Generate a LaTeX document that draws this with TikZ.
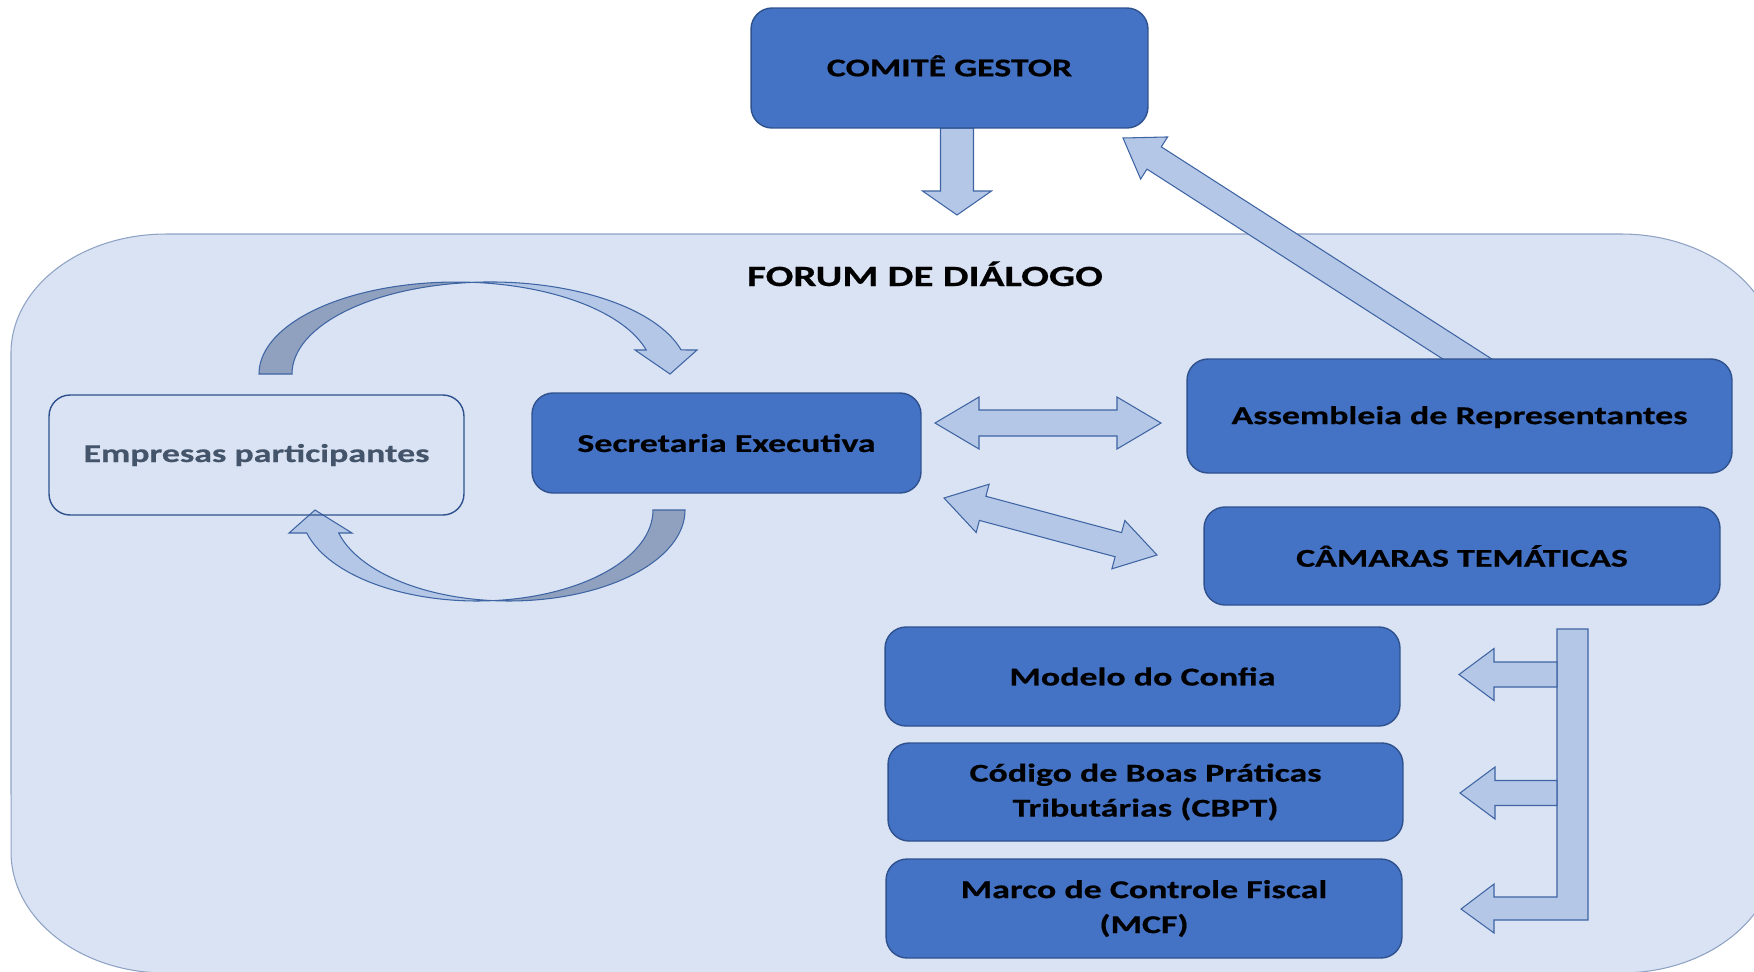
\documentclass[tikz,border=0pt]{standalone}
\usepackage{fontspec}
\newfontfamily\diagfont{Carlito}[FakeStretch=1.4, BoldFeatures={FakeBold=0.5}]
\usetikzlibrary{calc}
\definecolor{boxfill}{HTML}{4472C4}
\definecolor{boxline}{HTML}{2F528F}
\definecolor{panelfill}{HTML}{DAE3F3}
\definecolor{panelline}{HTML}{8EA2C4}
\definecolor{arrfill}{HTML}{B4C7E7}
\definecolor{arrline}{HTML}{3E64A3}
\definecolor{arrdark}{HTML}{8FA1BF}
\definecolor{greytext}{HTML}{44546A}
\tikzset{box/.style={rounded corners=0.42cm, draw=boxline, line width=0.8pt, fill=boxfill, inner sep=0pt, align=center, font=\diagfont\bfseries\fontsize{14.6}{19.9}\selectfont}}
\tikzset{openbox/.style={box, fill=none, text=greytext}}
\tikzset{panel/.style={draw=panelline, fill=panelfill, line width=0.6pt}}
\tikzset{arrshape/.style={draw=arrline, fill=arrfill, line width=0.6pt}}
\tikzset{arrback/.style={arrshape, fill=arrdark}}
% block arrow: tail, tip, half shaft, half head, head length
\newcommand{\blockarrow}[5]{%
  \coordinate (hb) at ($(#2)!#5!(#1)$);
  \path[arrshape] ($(#1)!#3!90:(#2)$) -- ($(hb)!#3!90:(#2)$) -- ($(hb)!#4!90:(#2)$) -- (#2)
    -- ($(hb)!#4!-90:(#2)$) -- ($(hb)!#3!-90:(#2)$) -- ($(#1)!#3!-90:(#2)$) -- cycle;}
% two-headed block arrow
\newcommand{\dblarrow}[5]{%
  \coordinate (ha) at ($(#1)!#5!(#2)$);
  \coordinate (hb) at ($(#2)!#5!(#1)$);
  \path[arrshape] (#1) -- ($(ha)!#4!90:(#2)$) -- ($(ha)!#3!90:(#2)$) -- ($(hb)!#3!90:(#2)$)
    -- ($(hb)!#4!90:(#2)$) -- (#2) -- ($(hb)!#4!-90:(#2)$) -- ($(hb)!#3!-90:(#2)$)
    -- ($(ha)!#3!-90:(#2)$) -- ($(ha)!#4!-90:(#2)$) -- cycle;}

\begin{document}
\begin{tikzpicture}[x=0.02cm, y=0.02cm]
    \useasboundingbox (0,0) rectangle (1754,-971);
    \clip (0,0) rectangle (1754,-971);

    % forum panel
    \path[panel] (166,-234) -- (1621,-234) arc[start angle=90, end angle=0, x radius=3.1cm, y radius=2.38cm]
        -- (1776,-852) arc[start angle=0, end angle=-90, x radius=3.1cm, y radius=2.42cm]
        -- (166,-973) arc[start angle=270, end angle=180, x radius=3.1cm, y radius=2.42cm]
        -- (11,-353) arc[start angle=180, end angle=90, x radius=3.1cm, y radius=2.38cm] -- cycle;
    \node[anchor=base, font=\diagfont\bfseries\fontsize{16.7}{20}\selectfont] (forum) at (925,-286) {FORUM DE DIÁLOGO};

    % curved arrows
    \path[arrback] (259,-374) arc[start angle=180, end angle=85.05, x radius=3.94cm, y radius=1.84cm]
        arc[start angle=94.93, end angle=180, x radius=3.96cm, y radius=1.84cm] -- cycle;
    \path[arrshape] (473,-282.3) arc[start angle=94.93, end angle=15.12, x radius=3.96cm, y radius=1.84cm]
        -- (697,-350) -- (670,-374) -- (635,-350) -- (646.2,-350)
        arc[start angle=15.12, end angle=85.05, x radius=3.94cm, y radius=1.84cm] -- cycle;
    \path[arrback] (685,-510) arc[start angle=0, end angle=-95.22, x radius=3.52cm, y radius=1.82cm]
        arc[start angle=-84.78, end angle=0, x radius=3.52cm, y radius=1.82cm] -- cycle;
    \path[arrshape] (493,-600.6) arc[start angle=-84.78, end angle=-165.36, x radius=3.52cm, y radius=1.82cm]
        -- (289,-533) -- (315,-510) -- (352,-533) -- (338.7,-533)
        arc[start angle=-165.36, end angle=-95.22, x radius=3.52cm, y radius=1.82cm] -- cycle;

    % arrow ends
    \coordinate (g1) at (957,-128);
    \coordinate (g2) at (957,-215);
    \coordinate (as1) at (1500,-380);
    \coordinate (as2) at (1123,-138);
    \coordinate (sa1) at (935,-423);
    \coordinate (sa2) at (1161,-423);
    \coordinate (sc1) at (944,-498);
    \coordinate (sc2) at (1157,-555);
    \coordinate (b1) at (1557,-674.5);
    \coordinate (b1t) at (1459,-674.5);
    \coordinate (b2) at (1557,-793);
    \coordinate (b2t) at (1460,-793);

    \blockarrow{g1}{g2}{0.33cm}{0.69cm}{0.48cm}
    \blockarrow{as1}{as2}{0.265cm}{0.5cm}{0.74cm}
    \dblarrow{sa1}{sa2}{0.26cm}{0.52cm}{0.88cm}
    \dblarrow{sc1}{sc2}{0.25cm}{0.5cm}{0.8cm}

    % bracket to the three themes
    \path[arrshape] (1557,-629) -- (1588,-629) -- (1588,-920) -- (1494,-920) -- (1494,-933)
        -- (1461,-909) -- (1494,-884) -- (1494,-897) -- (1557,-897) -- cycle;
    \blockarrow{b1}{b1t}{0.25cm}{0.52cm}{0.7cm}
    \blockarrow{b2}{b2t}{0.25cm}{0.52cm}{0.7cm}

    % boxes
    \node[box, minimum width=7.94cm, minimum height=2.4cm, text depth=0.25em] (gestor) at (949.5,-68) {COMITÊ GESTOR};
    \node[openbox, minimum width=8.3cm, minimum height=2.4cm] (empresas) at (256.5,-455) {Empresas participantes};
    \node[box, minimum width=7.78cm, minimum height=2cm] (secretaria) at (726.5,-443) {Secretaria Executiva};
    \node[box, minimum width=10.9cm, minimum height=2.28cm, text height=1.15em] (assembleia) at (1459.5,-416) {Assembleia de Representantes};
    \node[box, minimum width=10.32cm, minimum height=1.96cm] (camaras) at (1462,-556) {CÂMARAS TEMÁTICAS};
    \node[box, minimum width=10.3cm, minimum height=1.98cm] (modelo) at (1142.5,-676.5) {Modelo do Confia};
    \node[box, minimum width=10.3cm, minimum height=1.96cm] (codigo) at (1145.5,-792) {Código de Boas Práticas\\Tributárias (CBPT)};
    \node[box, minimum width=10.32cm, minimum height=1.98cm] (marco) at (1144,-908.5) {Marco de Controle Fiscal\\(MCF)};
\end{tikzpicture}
\end{document}
